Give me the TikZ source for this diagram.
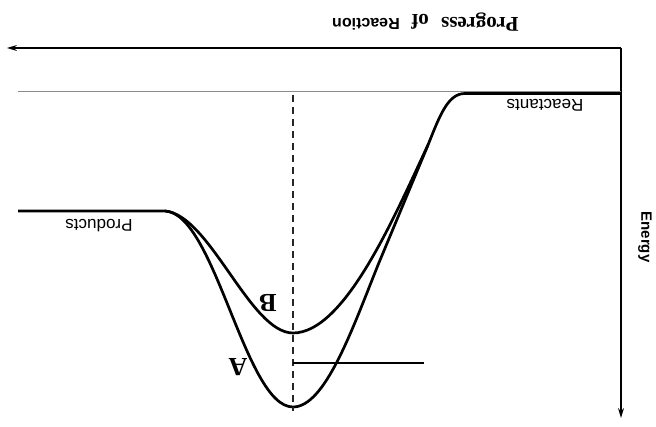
\documentclass[tikz,border=0pt]{standalone}
\usepackage{fontspec}
\newfontfamily\ars{Liberation Sans}
\newfontfamily\tnr{Liberation Serif}
\usetikzlibrary{arrows.meta}
\begin{document}
\begin{tikzpicture}[x=1pt,y=-1pt,
  axis/.style={line width=1.3pt, -{Stealth[length=10pt,width=6pt]}},
  curve/.style={line width=2.7pt, line join=round},
  lbl/.style={rotate=180, inner sep=0pt},
  sanslbl/.style={lbl, font=\ars\fontsize{17}{19}\selectfont},
  letterlbl/.style={lbl, font=\tnr\bfseries\fontsize{26}{28}\selectfont},
  dashline/.style={line width=1.1pt, black!85, dash pattern=on 7pt off 5pt},
]
\useasboundingbox (0,0) rectangle (656,427);
% axes
\coordinate (O) at (621,48);
\coordinate (xend) at (7,48);
\coordinate (yend) at (621,418);
\draw[axis] (O) -- (xend);
\draw[axis] (O) -- (yend);
% reactant level guide
\coordinate (g1) at (18,91);
\coordinate (g2) at (621,91);
\draw[black!45, line width=0.8pt] (g1) -- (g2);
% key points
\coordinate (R1) at (621,93.5);
\coordinate (R0) at (465,93.5);
\coordinate (M) at (428,145);
\coordinate (P0) at (18,211);
\coordinate (P1) at (165,211);
\coordinate (minA) at (293,407);
\coordinate (minB) at (293,333);
% curve A
\draw[curve] (R1) -- (R0) .. controls (448,93.5) and (440,115) .. (M)
  -- (378,265) .. controls (352,330) and (325,407) .. (minA)
  .. controls (245,407) and (215,213) .. (P1) -- (P0);
% curve B
\draw[curve] (M) .. controls (395,215) and (345,333) .. (minB)
  .. controls (250,333) and (210,215) .. (P1);
% dashed vertical
\coordinate (D1) at (293,95);
\coordinate (D2) at (293,411);
\draw[dashline] (D1) -- (D2);
% horizontal marker line
\coordinate (H1) at (293,363);
\coordinate (H2) at (424,363);
\draw[line width=1.2pt] (H1) -- (H2);
% labels
\node[sanslbl] (reac) at (545,105) {Reactants};
\node[sanslbl] (prod) at (99,226) {Products};
\node[letterlbl] (labB) at (268,303) {B};
\node[letterlbl] (labA) at (238,367) {A};
\node[rotate=-90, inner sep=0pt, font=\ars\bfseries\fontsize{15}{17}\selectfont] (en) at (645,237) {Energy};
\node[lbl, font=\tnr\bfseries\fontsize{21}{24}\selectfont] (prog) at (480,22) {Progress};
\node[lbl, font=\tnr\bfseries\fontsize{21}{24}\selectfont] (of) at (420,22) {of};
\node[lbl, font=\ars\bfseries\fontsize{16}{18}\selectfont] (reaction) at (366,24) {Reaction};
\end{tikzpicture}
\end{document}
